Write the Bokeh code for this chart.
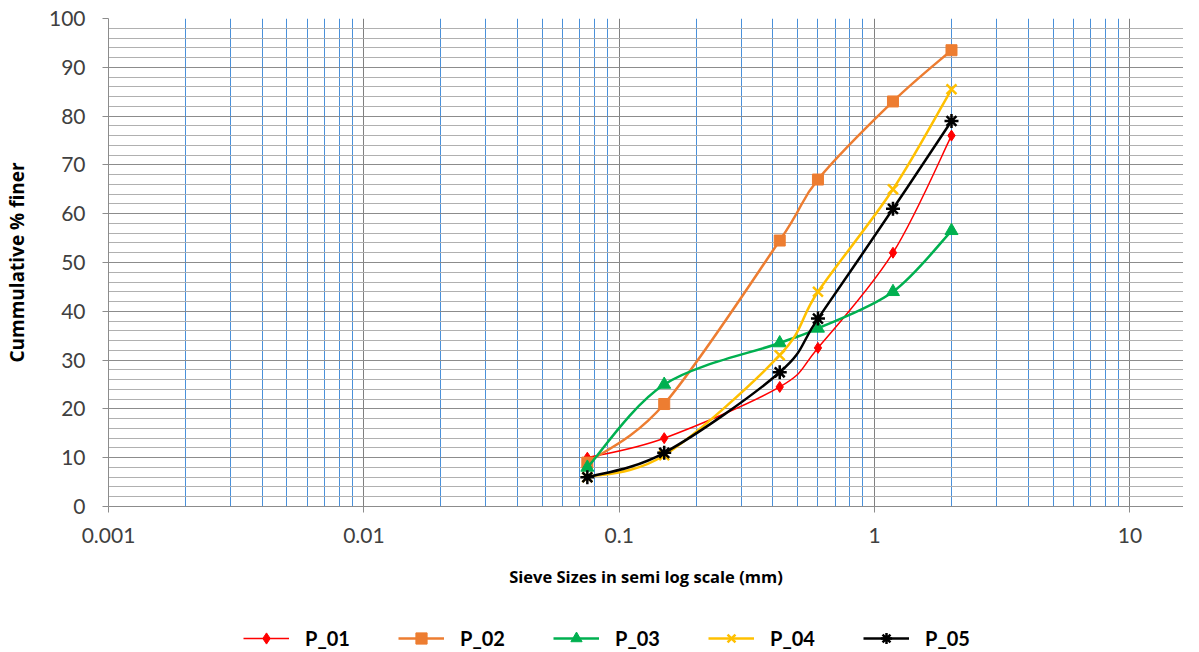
import math
from bokeh.plotting import figure
from bokeh.layouts import column
from bokeh.models import (Range1d, FixedTicker, CustomJSTickFormatter, Legend, LegendItem,
                          ColumnDataSource)
from bokeh.embed import file_html
from bokeh.resources import INLINE

# ---- data ----
sieve_mm = [0.075, 0.15, 0.425, 0.6, 1.18, 2.0]
series_names = ["P_01", "P_02", "P_03", "P_04", "P_05"]
p01 = [10.0, 14.0, 24.5, 32.5, 52.0, 76.0]
p02 = [9.0, 21.0, 54.5, 67.0, 83.0, 93.5]
p03 = [8.0, 25.0, 33.5, 36.5, 44.0, 56.5]
p04 = [6.0, 10.5, 31.0, 44.0, 65.0, 85.5]
p05 = [6.0, 11.0, 27.5, 38.5, 61.0, 79.0]
x_major = [0.001, 0.01, 0.1, 1, 10]
y_major = list(range(0, 101, 10))

colors = ["#FF0000", "#ED7D31", "#00B050", "#FFC000", "#000000"]
markers = ["diamond", "square", "triangle", "x", "asterisk"]
msizes = [11, 11, 13, 14, 14]
lwidths = [1.5, 2.5, 2.5, 2.5, 2.5]

W = 1183
p = figure(width=W, height=600, x_axis_type="log",
           x_range=Range1d(0.001, 16.2), y_range=Range1d(0, 100),
           output_backend="svg", toolbar_location=None,
           min_border_left=92, min_border_right=0, min_border_top=18,
           min_border_bottom=94)
p.outline_line_color = None

x_minor = [m * d for d in x_major for m in range(2, 10)]
p.xaxis.ticker = FixedTicker(ticks=x_major, minor_ticks=x_minor)
p.yaxis.ticker = FixedTicker(ticks=y_major, minor_ticks=list(range(0, 101, 2)))
p.xaxis.formatter = CustomJSTickFormatter(code="return String(Number(tick.toPrecision(6)));")

for ax in (p.xaxis, p.yaxis):
    ax.axis_line_color = "#8c8c8c"
    ax.major_tick_line_color = "#8c8c8c"
    ax.major_tick_out = 6
    ax.major_tick_in = 0
    ax.minor_tick_line_color = None
    ax.major_label_text_font = "Lato"
    ax.major_label_text_font_size = "21px"
    ax.major_label_text_color = "#404040"
    ax.axis_label_text_font = "Open Sans"
    ax.axis_label_text_font_style = "bold"
    ax.axis_label_text_color = "#000000"

p.xaxis.axis_label_text_font_size = "16.5px"
p.yaxis.axis_label_text_font_size = "19px"
p.xaxis.axis_label = "Sieve Sizes in semi log scale (mm)"
p.yaxis.axis_label = "Cummulative % finer"
p.xaxis.major_label_standoff = 15
p.yaxis.major_label_standoff = 17
p.xaxis.axis_label_standoff = 19
p.yaxis.axis_label_standoff = 16

p.xgrid.grid_line_color = "#808080"
p.xgrid.minor_grid_line_color = "#4A90D9"
p.ygrid.grid_line_color = "#8c8c8c"
p.ygrid.minor_grid_line_color = "#b0b0b0"


def smooth_controls(xs, ys):
    u = [math.log10(v) for v in xs]
    n = len(u)
    out = dict(x0=[], y0=[], x1=[], y1=[], cx0=[], cy0=[], cx1=[], cy1=[])
    for i in range(n - 1):
        a = max(i - 1, 0)
        b = min(i + 2, n - 1)
        cu0 = u[i] + (u[i + 1] - u[a]) / 6.0
        cy0 = ys[i] + (ys[i + 1] - ys[a]) / 6.0
        cu1 = u[i + 1] - (u[b] - u[i]) / 6.0
        cy1 = ys[i + 1] - (ys[b] - ys[i]) / 6.0
        out["x0"].append(xs[i]); out["y0"].append(ys[i])
        out["x1"].append(xs[i + 1]); out["y1"].append(ys[i + 1])
        out["cx0"].append(10 ** cu0); out["cy0"].append(cy0)
        out["cx1"].append(10 ** cu1); out["cy1"].append(cy1)
    return out


def add_marks(fig, xs, ys, c, mk, ms):
    if mk in ("x", "asterisk"):
        return fig.scatter(xs, ys, marker=mk, size=ms, line_color=c,
                           line_width=2.5, fill_color=c)
    return fig.scatter(xs, ys, marker=mk, size=ms, line_color=c, fill_color=c)


# legend strip below the chart
leg = figure(width=W, height=52, x_range=Range1d(0, 1), y_range=Range1d(0, 1),
             output_backend="svg", toolbar_location=None,
             x_axis_location=None, y_axis_location=None,
             min_border_left=0, min_border_right=0, min_border_top=0, min_border_bottom=0)
leg.outline_line_color = None
leg.xgrid.visible = False
leg.ygrid.visible = False

items = []
all_series = [p01, p02, p03, p04, p05]
for name, ys, c, mk, ms, lw in zip(series_names, all_series, colors, markers, msizes, lwidths):
    src = ColumnDataSource(smooth_controls(sieve_mm, ys))
    p.bezier(x0="x0", y0="y0", x1="x1", y1="y1", cx0="cx0", cy0="cy0",
             cx1="cx1", cy1="cy1", source=src, line_color=c, line_width=lw)
    add_marks(p, sieve_mm, ys, c, mk, ms)
    # legend proxies, placed outside the strip's visible range
    lr = leg.line([-10, -9], [-10, -10], line_color=c, line_width=lw)
    mr = add_marks(leg, [-10], [-10], c, mk, ms)
    items.append(LegendItem(label=name, renderers=[lr, mr]))

legend = Legend(items=items, orientation="horizontal", location=(135, 0),
                glyph_width=46, glyph_height=28, label_standoff=16, label_width=72,
                spacing=21, padding=2, margin=0, border_line_color=None,
                background_fill_alpha=0,
                label_text_font="Lato", label_text_font_style="bold",
                label_text_font_size="20px", label_text_color="#000000")
leg.add_layout(legend, "center")

open("out.html", "w").write(file_html(column(p, leg), INLINE))
